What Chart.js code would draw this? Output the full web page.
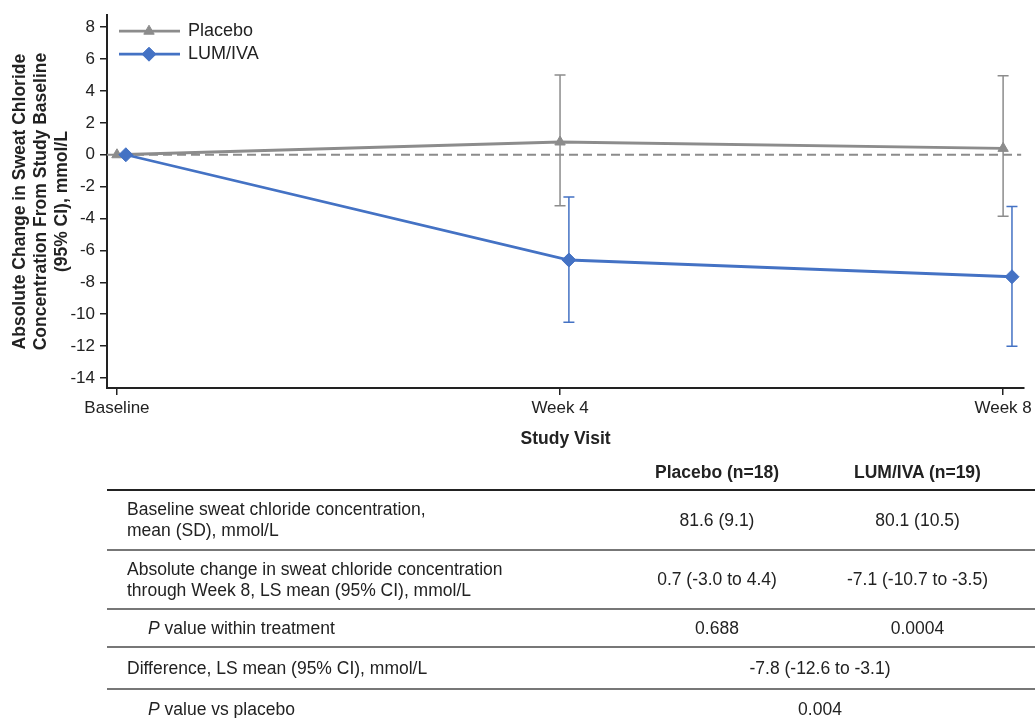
<!DOCTYPE html>
<html>
<head>
<meta charset="utf-8">
<title>Sweat chloride change from baseline</title>
<script src="https://cdn.jsdelivr.net/npm/chart.js@4.4.1/dist/chart.umd.min.js"></script>
<style>
  body { margin: 0; background: #fff; font-family: "Liberation Sans", Arial, sans-serif; color: #222; }
  #wrap { position: relative; width: 1035px; height: 718px; overflow: hidden; }
  #chart { position: absolute; left: 0; top: 0; }
  #stats { position: absolute; left: 107px; top: 455px; width: 928px; border-collapse: collapse; font-size: 17.5px; table-layout: fixed; }
  #stats td { padding: 0; vertical-align: middle; text-align: center; line-height: 21px; white-space: nowrap; }
  #stats td.lab { text-align: left; padding-left: 20px; }
  #stats td.ind { padding-left: 41px; }
  #stats td.c3 { padding-right: 12px; }
  #stats td.merged { padding-right: 17px; }
  #stats tr.head td { font-weight: bold; height: 34px; }
  #stats tr.head { border-bottom: 2px solid #222; }
  #stats tr.sep { border-bottom: 2px solid #777; }
</style>
</head>
<body>
<div id="wrap">
  <canvas id="chart" width="1035" height="460"></canvas>
  <table id="stats">
    <colgroup><col style="width:515px"><col style="width:190px"><col></colgroup>
    <tbody id="statsBody"></tbody>
  </table>
</div>
<script>
// chart data
const visits = [0, 4, 8];
const visitLabels = ['Baseline', 'Week 4', 'Week 8'];
const yTicks = [-14, -12, -10, -8, -6, -4, -2, 0, 2, 4, 6, 8];

const placeboMean = [0, 0.8, 0.4];
const placeboLow = [null, -3.2, -3.85];
const placeboHigh = [null, 5.0, 4.95];

const lumMean = [0, -6.6, -7.65];
const lumLow = [null, -10.5, -12.0];
const lumHigh = [null, -2.65, -3.25];

// table data
const colHeads = ['Placebo (n=18)', 'LUM/IVA (n=19)'];
const rowLabels = [
    'Baseline sweat chloride concentration,<br>mean (SD), mmol/L',
    'Absolute change in sweat chloride concentration<br>through Week 8, LS mean (95% CI), mmol/L',
    '<i>P</i> value within treatment',
    'Difference, LS mean (95% CI), mmol/L',
    '<i>P</i> value vs placebo'
];
const rowIndent = [false, false, true, false, true];
const placeboCol = ['81.6 (9.1)', '0.7 (-3.0 to 4.4)', '0.688', null, null];
const lumCol = ['80.1 (10.5)', '-7.1 (-10.7 to -3.5)', '0.0004', null, null];
const diffCol = [null, null, null, '-7.8 (-12.6 to -3.1)', '0.004'];
const rowHeights = [60, 59, 38, 42, 40];

const GREY = '#8c8c8c';
const BLUE = '#4472c4';
const INK = '#222';
const dodge = 0.08; // small horizontal shift so the two series don't overlap

// --- table ---
let html = '<tr class="head"><td></td><td>' + colHeads[0] + '</td><td class="c3">' + colHeads[1] + '</td></tr>';
rowLabels.forEach((lab, i) => {
    const cls = i < rowLabels.length - 1 ? 'sep' : '';
    html += `<tr class="${cls}" style="height:${rowHeights[i]}px"><td class="lab${rowIndent[i] ? ' ind' : ''}">${lab}</td>`;
    if (placeboCol[i] != null) {
        html += `<td>${placeboCol[i]}</td><td class="c3">${lumCol[i]}</td>`;
    } else {
        html += `<td colspan="2" class="merged">${diffCol[i]}</td>`;
    }
    html += '</tr>';
});
document.getElementById('statsBody').innerHTML = html;

// --- chart ---
const toPoints = (ys, shift) => ys.map((y, i) => ({ x: visits[i] + shift, y: y }));

const zeroLine = {
    id: 'zeroLine',
    beforeDatasetsDraw(chart) {
        const { ctx, chartArea } = chart;
        const py = chart.scales.y.getPixelForValue(0);
        ctx.save();
        ctx.strokeStyle = GREY;
        ctx.lineWidth = 2;
        ctx.setLineDash([9, 5]);
        ctx.beginPath();
        ctx.moveTo(chartArea.left, py);
        ctx.lineTo(chartArea.right - 3, py);
        ctx.stroke();
        ctx.restore();
    }
};

const errorBars = {
    id: 'errorBars',
    beforeDatasetsDraw(chart) {
        const { ctx } = chart;
        const ys = chart.scales.y;
        chart.data.datasets.forEach((ds, di) => {
            const meta = chart.getDatasetMeta(di);
            ctx.save();
            ctx.strokeStyle = ds.borderColor;
            ctx.lineWidth = 1.5;
            ds.low.forEach((lo, i) => {
                if (lo == null) return;
                const px = meta.data[i].x;
                const top = ys.getPixelForValue(ds.high[i]);
                const bot = ys.getPixelForValue(lo);
                ctx.beginPath();
                ctx.moveTo(px, top); ctx.lineTo(px, bot);
                ctx.moveTo(px - 5.5, top); ctx.lineTo(px + 5.5, top);
                ctx.moveTo(px - 5.5, bot); ctx.lineTo(px + 5.5, bot);
                ctx.stroke();
            });
            ctx.restore();
        });
    }
};

const lineLegend = {
    id: 'lineLegend',
    afterDraw(chart) {
        const { ctx, chartArea } = chart;
        chart.data.datasets.forEach((ds, i) => {
            const x0 = chartArea.left + 12;
            const y0 = chartArea.top + 16 + i * 23;
            ctx.save();
            ctx.strokeStyle = ds.borderColor;
            ctx.lineWidth = ds.borderWidth;
            ctx.beginPath();
            ctx.moveTo(x0, y0);
            ctx.lineTo(x0 + 61, y0);
            ctx.stroke();
            ctx.fillStyle = ds.backgroundColor;
            ctx.lineWidth = 1;
            Chart.helpers.drawPoint(ctx, { pointStyle: ds.pointStyle, radius: ds.pointRadius, borderWidth: 1, rotation: 0 }, x0 + 30, y0);
            ctx.fillStyle = INK;
            ctx.font = '18px "Liberation Sans", Arial, sans-serif';
            ctx.textBaseline = 'middle';
            ctx.fillText(ds.label, x0 + 69, y0);
            ctx.restore();
        });
    }
};

const axisFont = { family: '"Liberation Sans", Arial, sans-serif', size: 17 };
const titleFont = { family: '"Liberation Sans", Arial, sans-serif', size: 17.5, weight: 'bold', lineHeight: 1.2 };

new Chart(document.getElementById('chart'), {
    type: 'line',
    data: {
        datasets: [{
            label: 'Placebo',
            data: toPoints(placeboMean, 0),
            low: placeboLow,
            high: placeboHigh,
            borderColor: GREY,
            backgroundColor: GREY,
            borderWidth: 2.8,
            pointStyle: 'triangle',
            pointRadius: 6,
            pointBorderWidth: 1,
            order: 1
        }, {
            label: 'LUM/IVA',
            data: toPoints(lumMean, dodge),
            low: lumLow,
            high: lumHigh,
            borderColor: BLUE,
            backgroundColor: BLUE,
            borderWidth: 2.8,
            pointStyle: 'rectRot',
            pointRadius: 7,
            pointBorderWidth: 1,
            order: 0
        }]
    },
    options: {
        responsive: false,
        animation: false,
        devicePixelRatio: 1,
        layout: { padding: { top: 14, right: 10, left: 0, bottom: 0 } },
        plugins: {
            legend: { display: false },
            tooltip: { enabled: false }
        },
        scales: {
            x: {
                type: 'linear',
                min: -0.09,
                max: 8.19,
                afterBuildTicks: s => { s.ticks = visits.map(v => ({ value: v })); },
                afterFit: s => { s.height = 72; },
                ticks: {
                    callback: v => visitLabels[visits.indexOf(v)],
                    font: axisFont, color: INK, padding: 3, maxRotation: 0, autoSkip: false
                },
                grid: { drawOnChartArea: false, drawTicks: true, tickLength: 7, color: INK, lineWidth: 1.5 },
                border: { color: INK, width: 2 },
                title: { display: true, text: 'Study Visit', font: titleFont, color: INK, padding: { top: 6, bottom: 10 } }
            },
            y: {
                min: -14.625,
                max: 8.75,
                afterBuildTicks: s => { s.ticks = yTicks.map(v => ({ value: v })); },
                afterFit: s => { s.width = 107; },
                ticks: { font: axisFont, color: INK, padding: 5 },
                grid: { drawOnChartArea: false, drawTicks: true, tickLength: 7, color: INK, lineWidth: 1.5 },
                border: { color: INK, width: 2 },
                title: {
                    display: true,
                    text: ['Absolute Change in Sweat Chloride', 'Concentration From Study Baseline', '(95% CI), mmol/L'],
                    font: titleFont, color: INK, padding: { top: 10, bottom: 0 }
                }
            }
        }
    },
    plugins: [zeroLine, errorBars, lineLegend]
});
</script>
</body>
</html>
